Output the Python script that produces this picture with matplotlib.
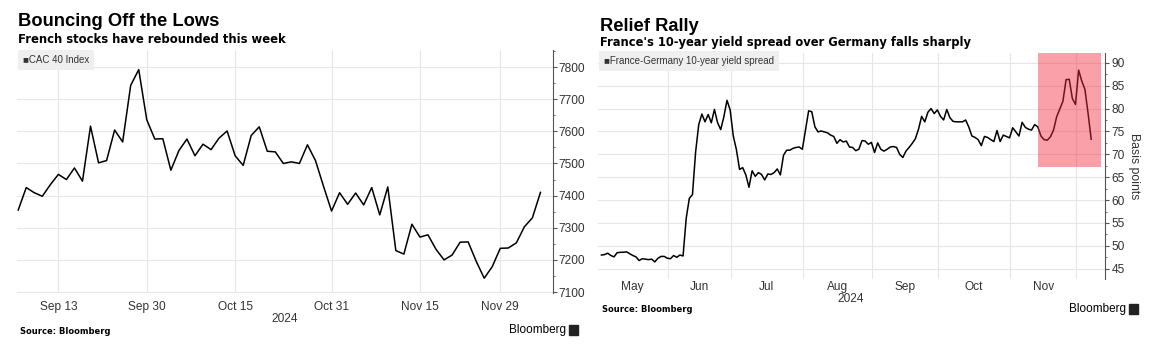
import matplotlib
matplotlib.use("Agg")
import matplotlib.pyplot as plt
import matplotlib.patches as mpatches
from matplotlib.ticker import MultipleLocator
import numpy as np
import pandas as pd

# ---- data ---------------------------------------------------------------
cac_start, cac_end = "2024-09-06", "2024-12-06"
cac_values = [7355, 7425, 7409, 7398, 7434, 7466, 7450, 7486, 7445, 7616,
              7502, 7509, 7604, 7567, 7743, 7792, 7636, 7576, 7577, 7479,
              7540, 7576, 7524, 7560, 7543, 7579, 7601, 7524, 7494, 7587,
              7614, 7538, 7536, 7500, 7505, 7500, 7558, 7509, 7429, 7352,
              7409, 7373, 7408, 7371, 7425, 7340, 7427, 7229, 7218, 7311,
              7271, 7278, 7233, 7200, 7215, 7255, 7256, 7196, 7143, 7179,
              7236, 7237, 7253, 7303, 7331, 7410]
cac_tick_dates = ["2024-09-13", "2024-09-30", "2024-10-15", "2024-10-31",
                  "2024-11-15", "2024-11-29"]
cac_tick_labels = ["Sep 13", "Sep 30", "Oct 15", "Oct 31", "Nov 15", "Nov 29"]
cac_yticks = [7100, 7200, 7300, 7400, 7500, 7600, 7700, 7800]

spread_start, spread_end = "2024-05-02", "2024-12-06"
spread_values = [
    48.0, 48.1, 48.4, 47.9, 47.6, 48.5, 48.6, 48.6, 48.7, 48.3,
    47.9, 47.6, 46.8, 47.2, 47.1, 47.0, 47.1, 46.5, 47.3, 47.7,
    47.7, 47.3, 47.2, 47.9, 47.5, 48.0, 47.8,
    56.0, 60.4, 61.2, 70.5, 76.5, 78.8, 77.1, 78.7, 76.9, 79.8,
    76.9, 75.4, 78.2,
    81.8, 79.7, 74.0, 71.0, 66.7, 67.1, 65.5, 62.8, 66.4, 65.2,
    66.0, 65.6, 64.4, 65.7, 65.6, 66.0, 66.8, 65.5, 69.8, 70.9,
    70.9, 71.3, 71.5, 71.6, 71.1, 75.3, 79.5, 79.3, 76.0, 74.9,
    75.1, 74.9, 74.7, 74.2, 73.9, 72.4, 73.2, 72.7, 72.9, 71.6,
    71.5, 70.8, 71.1, 73.0, 72.9, 72.2, 72.6, 70.4, 72.5, 71.1,
    70.7, 71.1, 71.6, 71.7, 71.5, 70.0, 69.3, 70.7, 71.5, 72.4,
    73.4, 75.5, 78.3, 77.1, 79.2, 80.0, 78.9, 79.7, 78.3, 77.5,
    79.8, 78.0, 77.2, 77.1, 77.1, 77.1, 77.5, 76.0, 74.0, 73.7,
    73.2, 71.9, 73.9, 73.7, 73.2, 72.8, 75.2, 72.8, 74.2, 73.9,
    73.6, 75.8, 74.9, 74.0, 77.0, 75.9, 75.5, 75.3, 76.5, 76.0,
    74.0, 73.2, 73.1, 73.8, 75.3, 78.2, 79.9, 81.6, 86.3, 86.4,
    82.2, 80.9, 88.4, 86.0, 84.2, 79.0, 73.3]
spread_months = ["May", "Jun", "Jul", "Aug", "Sep", "Oct", "Nov"]
spread_yticks = [45, 50, 55, 60, 65, 70, 75, 80, 85, 90]
shade_from = "2024-11-13"
shade_low = 67.2

# ---- layout helpers (pixels of the 1155x349 picture) ---------------------
W, H = 1155, 349
SANS = ["Liberation Sans", "DejaVu Sans"]
TXT = "#333333"
GRID = "#e6e6e6"

plt.rcParams['font.family'] = SANS


def fx(x):
    return x / W


def fy(y):
    return 1 - y / H


def style_axis(ax, xpad):
    for s in ["top", "left", "bottom"]:
        ax.spines[s].set_visible(False)
    ax.spines["right"].set_color("#555555")
    ax.spines["right"].set_linewidth(0.8)
    ax.yaxis.tick_right()
    ax.grid(True, axis="y", which="major", color=GRID, lw=0.8)
    ax.set_axisbelow(True)
    ax.tick_params(axis="y", which="major", direction="out", length=3, width=0.8,
                   pad=1.5, labelsize=8.6, colors="#555555", labelcolor=TXT)
    ax.tick_params(axis="y", which="minor", direction="out", length=1.5, width=0.6,
                   colors="#555555")
    ax.tick_params(axis="x", which="both", length=0, width=0, labelsize=8.6,
                   labelcolor=TXT, pad=xpad)


fig = plt.figure(figsize=(W / 100, H / 100), dpi=100)

# ---- left chart: CAC 40 --------------------------------------------------
cac_dates = pd.bdate_range(cac_start, cac_end)
cac_x = np.arange(len(cac_dates))
ax1 = fig.add_axes([fx(17), fy(293), fx(552.5) - fx(17), fy(50) - fy(293)])
ax1.plot(cac_x, cac_values, color="black", lw=1.1)
ax1.set_xlim(-0.15, len(cac_dates) + 0.5)
ax1.set_ylim(7097, 7853)
ax1.set_yticks(cac_yticks)
ax1.yaxis.set_minor_locator(MultipleLocator(50))
cac_tick_pos = cac_dates.get_indexer(pd.to_datetime(cac_tick_dates))
ax1.set_xticks(cac_tick_pos)
ax1.set_xticklabels(cac_tick_labels)
for p in cac_tick_pos:
    ax1.axvline(p, color=GRID, lw=0.8, zorder=0)
style_axis(ax1, 6)

fig.text(fx(18), fy(22), "Bouncing Off the Lows", family="Liberation Sans",
         weight="bold", fontsize=13.2, va="center", color="black")
fig.text(fx(18), fy(39.5), "French stocks have rebounded this week", family="DejaVu Sans",
         weight="bold", fontsize=8.4, va="center", color="black")
fig.text(fx(23), fy(60), "\u25a0CAC 40 Index", fontsize=7, va="center", color=TXT,
         bbox=dict(boxstyle="square,pad=0.5", fc="#efefef", ec="none"))
fig.text(fx(284.5), fy(319), "2024", fontsize=8.6, ha="center", va="center", color=TXT)
fig.text(fx(20), fy(331), "Source: Bloomberg", family="DejaVu Sans", weight="bold",
         fontsize=6, va="center", color="black")
fig.text(fx(566), fy(330), "Bloomberg", family="Liberation Sans", fontsize=8.5,
         ha="right", va="center", color="black")
fig.patches.append(mpatches.Rectangle((fx(569), fy(335)), fx(9), fy(325) - fy(335),
                                      transform=fig.transFigure, color="#222222"))

# ---- right chart: France-Germany spread ----------------------------------
cal = pd.bdate_range("2024-05-01", "2024-12-31")
spread_dates = pd.bdate_range(spread_start, spread_end)
spread_x = cal.get_indexer(spread_dates)
month_first = cal.to_series().groupby(cal.to_period("M")).first()
month_edges = cal.get_indexer(pd.DatetimeIndex(month_first.values)) - 0.8
n_m = len(spread_months)

ax2 = fig.add_axes([fx(597.5), fy(279.3), fx(1105) - fx(597.5), fy(52.7) - fy(279.3)])
ax2.plot(spread_x, spread_values, color="black", lw=1.1)
ax2.set_xlim(-0.25, spread_x[-1] + 4.4)
ax2.set_ylim(42.7, 92.2)
ax2.set_yticks(spread_yticks)
ax2.yaxis.set_minor_locator(MultipleLocator(2.5))
ax2.set_xticks((month_edges[:n_m] + month_edges[1:n_m + 1]) / 2)
ax2.set_xticklabels(spread_months)
for p in month_edges[1:n_m + 1]:
    ax2.axvline(p, color=GRID, lw=0.8, zorder=0)
style_axis(ax2, 1.5)

shade_x0 = cal.get_loc(pd.Timestamp(shade_from))
ax2.add_patch(mpatches.Rectangle((shade_x0, shade_low), spread_x[-1] + 3 - shade_x0,
                                 ax2.get_ylim()[1] - shade_low,
                                 facecolor="#f42c42", alpha=0.45, edgecolor="none", zorder=3))

fig.text(fx(1134), fy(166), "Basis points", rotation=-90, family="Liberation Sans",
         fontsize=8.8, ha="center", va="center", color=TXT)

fig.text(fx(600), fy(26.5), "Relief Rally", family="Liberation Sans",
         weight="bold", fontsize=13.2, va="center", color="black")
fig.text(fx(600), fy(42.5), "France's 10-year yield spread over Germany falls sharply",
         family="DejaVu Sans", weight="bold", fontsize=8.3, va="center", color="black")
fig.text(fx(604), fy(61), "\u25a0France-Germany 10-year yield spread", fontsize=7,
         va="center", color=TXT,
         bbox=dict(boxstyle="square,pad=0.5", fc="#efefef", ec="none"))
fig.text(fx(851), fy(298.5), "2024", fontsize=8.6, ha="center", va="center", color=TXT)
fig.text(fx(602), fy(310), "Source: Bloomberg", family="DejaVu Sans", weight="bold",
         fontsize=6, va="center", color="black")
fig.text(fx(1126), fy(309), "Bloomberg", family="Liberation Sans", fontsize=8.5,
         ha="right", va="center", color="black")
fig.patches.append(mpatches.Rectangle((fx(1129), fy(314)), fx(9), fy(304) - fy(314),
                                      transform=fig.transFigure, color="#222222"))

fig.savefig("out.png", dpi=100)
